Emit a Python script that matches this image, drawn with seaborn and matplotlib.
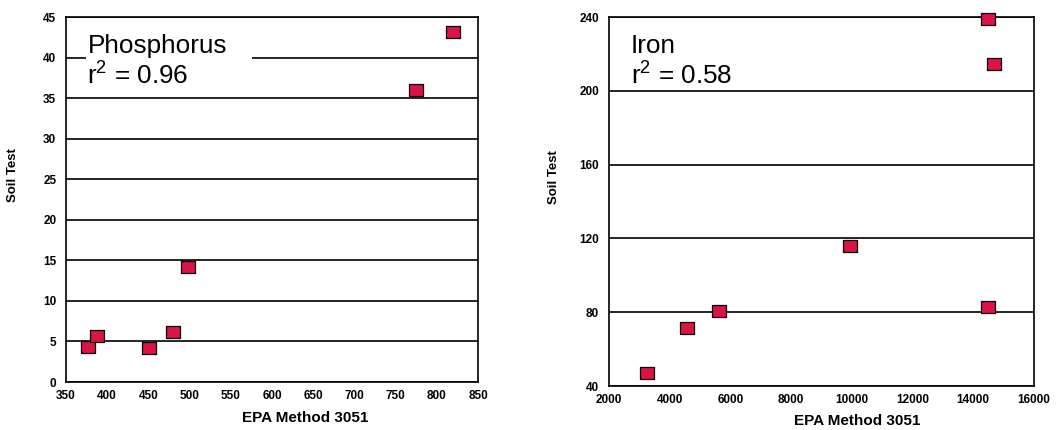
import matplotlib
matplotlib.use("Agg")
import matplotlib.pyplot as plt
import seaborn as sns
import pandas as pd
from matplotlib.patches import Rectangle

# Phosphorus panel data
p_epa = [377, 388, 451, 480, 498, 775, 819]
p_soil = [4.3, 5.7, 4.2, 6.2, 14.2, 36.0, 43.1]
p_xticks = [350, 400, 450, 500, 550, 600, 650, 700, 750, 800, 850]
p_yticks = [0, 5, 10, 15, 20, 25, 30, 35, 40, 45]

# Iron panel data
fe_epa = [3250, 4570, 5620, 9940, 14480, 14480, 14680]
fe_soil = [47.0, 71.4, 80.6, 115.9, 82.8, 238.9, 214.5]
fe_xticks = [2000, 4000, 6000, 8000, 10000, 12000, 14000, 16000]
fe_yticks = [40, 80, 120, 160, 200, 240]

labels = ["Phosphorus\nr$^2$ = 0.96", "Iron\nr$^2$ = 0.58"]

sns.set_style("white")
plt.rcParams['font.family'] = ['Liberation Sans', 'DejaVu Sans']
plt.rcParams['mathtext.fontset'] = 'custom'
plt.rcParams['mathtext.rm'] = 'Liberation Sans'
plt.rcParams['mathtext.default'] = 'regular'
for k in ['text.color', 'axes.labelcolor', 'xtick.color', 'ytick.color']:
    plt.rcParams[k] = 'black'

fig = plt.figure(figsize=(10.6, 4.3), dpi=100)
ax1 = fig.add_axes([0.0623, 0.1116, 0.3887, 0.8488])
ax2 = fig.add_axes([0.5745, 0.1023, 0.4009, 0.8581])

marker = [(-1.2, -1), (1.2, -1), (1.2, 1), (-1.2, 1), (-1.2, -1)]
face = '#dc1446'

def panel(ax, x, y, xt, yt, label, box, ylab_pos, xlab_pos):
    df = pd.DataFrame({"EPA": x, "Soil": y})
    sns.scatterplot(data=df, x="EPA", y="Soil", ax=ax, marker=marker, s=100,
                    color=face, edgecolor='black', linewidth=0.9, zorder=5,
                    clip_on=False)
    ax.set_xlim(xt[0], xt[-1])
    ax.set_ylim(yt[0], yt[-1])
    ax.set_xticks(xt)
    ax.set_yticks(yt)
    ax.set_xticklabels([str(v) for v in xt], fontsize=8.5, fontweight='bold')
    ax.set_yticklabels([str(v) for v in yt], fontsize=8.5, fontweight='bold')
    ax.tick_params(axis='x', length=0, pad=6)
    ax.tick_params(axis='y', length=0, pad=7)
    ax.yaxis.grid(True, color='black', linewidth=1.2)
    ax.xaxis.grid(False)
    ax.set_axisbelow(True)
    for s in ax.spines.values():
        s.set_color('black')
        s.set_linewidth(1.2)
    ax.set_xlabel("EPA Method 3051", fontsize=11, fontweight='bold')
    ax.set_ylabel("Soil Test", fontsize=9.5, fontweight='bold')
    ax.yaxis.set_label_coords(*ylab_pos)
    ax.xaxis.set_label_coords(*xlab_pos)
    if box is not None:
        ax.add_patch(Rectangle((box[0], box[1]), box[2], box[3],
                               transform=ax.transAxes, facecolor='white',
                               edgecolor='none', zorder=3))
    ax.text(0.052, 0.953, label, transform=ax.transAxes, fontsize=18.8,
            va='top', ha='left', zorder=4, linespacing=1.2)

panel(ax1, p_epa, p_soil, p_xticks, p_yticks, labels[0],
      (0.0485, 0.79, 0.4025, 0.175), (-0.115, 0.567), (0.58, -0.08))
panel(ax2, fe_epa, fe_soil, fe_xticks, fe_yticks, labels[1],
      None, (-0.115, 0.566), (0.583, -0.075))

fig.savefig("out.png", dpi=100)
